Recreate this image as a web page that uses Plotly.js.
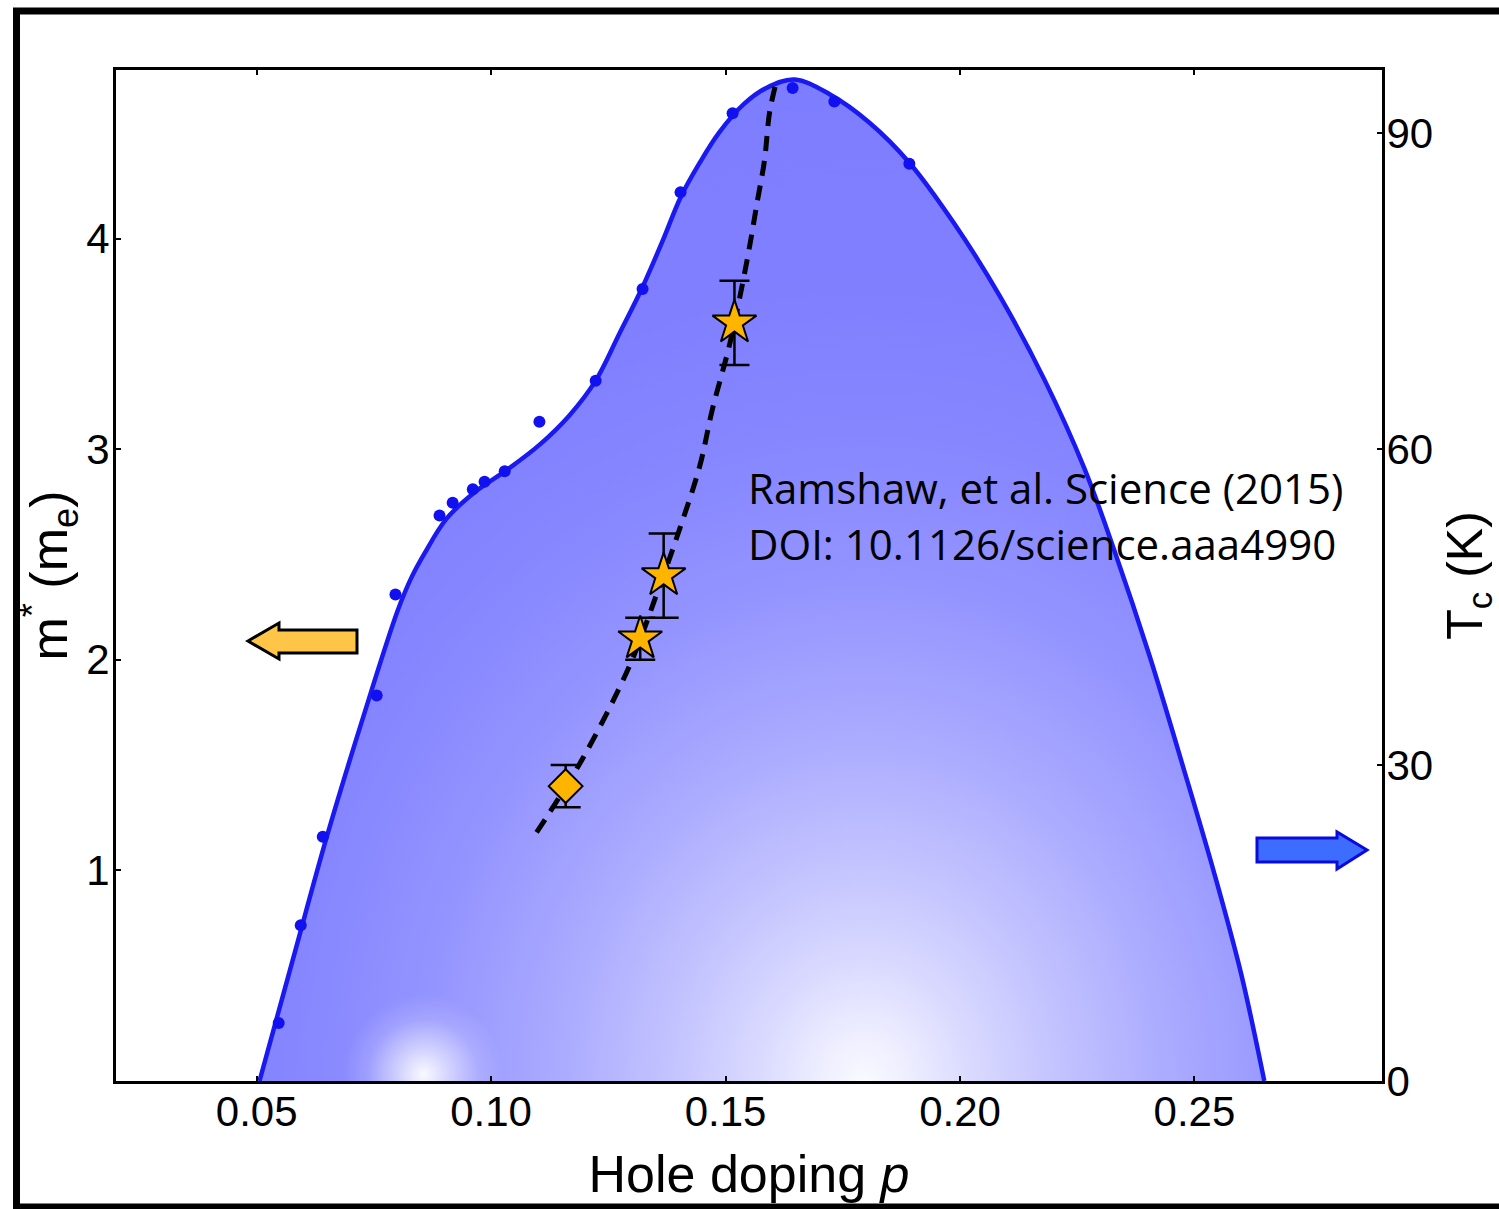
<!DOCTYPE html>
<html><head><meta charset="utf-8">
<script src="https://cdn.plot.ly/plotly-3.0.1.min.js"></script>
<style>html,body{margin:0;padding:0;background:#fff;}#chart{width:1499px;height:1209px;}</style>
</head><body><div id="chart"></div>
<script>
// Superconducting dome fit: hole doping p vs Tc (K)
const domeP  = [0.0506,0.0577,0.0649,0.0724,0.0801,0.0830,0.0858,0.0905,0.0965,0.1033,0.1103,0.1167,0.1223,0.1274,0.1323,0.1366,0.1404,0.1445,0.1487,0.1540,0.1587,0.1647,0.1722,0.1807,0.1892,0.1988,0.2084,0.2180,0.2265,0.2329,0.2404,0.2478,0.2543,0.2600,0.2649];
const domeTc = [0,11.5,23.1,34.1,44.7,47.8,50.1,53.4,55.9,58.0,60.4,63.2,66.5,71.0,75.4,79.8,83.9,87.2,90.1,92.8,94.3,95.1,93.7,91.0,87.2,81.4,74.6,66.6,58.2,50.4,40.4,29.5,19.6,10.1,0];
// Measured Tc points
const tcP   = [0.0547,0.0594,0.0641,0.0756,0.0796,0.0890,0.0918,0.0961,0.0986,0.1029,0.1103,0.1223,0.1323,0.1404,0.1515,0.1643,0.1732,0.1892];
const tcVal = [5.5,14.8,23.2,36.6,46.2,53.7,54.9,56.2,56.9,57.9,62.6,66.5,75.2,84.4,91.9,94.3,93.0,87.1];
// Effective mass m* (m_e)
const starP = [0.1318,0.1368,0.1519];
const starM = [2.1,2.4,3.6];
const starErr = [0.1,0.2,0.2];
const diamondP = [0.1159];
const diamondM = [1.4];
const diamondErr = [0.1];
// Dashed guide line for m*
const guideP = [0.1097,0.1195,0.1295,0.1353,0.1402,0.1445,0.1472,0.1509,0.1547,0.1568,0.1583,0.1594,0.1609];
const guideM = [1.18,1.53,1.97,2.31,2.62,2.92,3.19,3.50,3.91,4.18,4.37,4.60,4.75];
// Ticks
const xTickVals = [0.05,0.10,0.15,0.20,0.25];
const xTickText = ['0.05','0.10','0.15','0.20','0.25'];
const mTickVals = [1,2,3,4];
const tcTickVals = [0,30,60,90];

// ---- decoration geometry (not data): fill polygon closed below the axis ----
const fillP  = [-0.008].concat(domeP, [0.310, 0.367]);
const fillTc = [-93].concat(domeTc, [-93, -93]);
const glowP  = [0.0686,0.1026,0.1026,0.0686];
const glowTc = [-7,-7,8.2,8.2];

const FONT = 'Liberation Sans, Arial, sans-serif';
const NOTE = 'Open Sans, sans-serif';
const traces = [
  {x: fillP, y: fillTc, xaxis:'x', yaxis:'y', mode:'lines', line:{width:0, shape:'spline'},
   fill:'toself', fillgradient:{type:'radial', colorscale:[[0,'#FAFAFF'],[0.05,'#EEEEFF'],[0.12,'#DADAFF'],[0.22,'#C3C3FF'],[0.35,'#AAAAFF'],[0.5,'#9494FF'],[0.65,'#8686FF'],[0.8,'#8080FF'],[1,'#7D7DFF']]},
   hoverinfo:'skip', showlegend:false},
  {x: glowP, y: glowTc, xaxis:'x', yaxis:'y', mode:'lines', line:{width:0},
   fill:'toself', fillgradient:{type:'radial', colorscale:[[0,'rgba(255,255,255,0.95)'],[0.3,'rgba(255,255,255,0.6)'],[0.7,'rgba(255,255,255,0.15)'],[1,'rgba(255,255,255,0)']]},
   hoverinfo:'skip', showlegend:false},
  {x: domeP, y: domeTc, xaxis:'x', yaxis:'y', mode:'lines', line:{color:'#1A1AF0', width:4.5, shape:'spline'}, showlegend:false},
  {x: tcP, y: tcVal, xaxis:'x', yaxis:'y', mode:'markers', marker:{color:'#1010F0', size:12}, showlegend:false},
  {x: guideP, y: guideM, xaxis:'x', yaxis:'y2', mode:'lines', line:{color:'#000', width:5, dash:'15px,10px', shape:'spline'}, showlegend:false},
  {x: starP, y: starM, xaxis:'x', yaxis:'y2', mode:'markers',
   marker:{symbol:'star', size:33, color:'#FFB400', line:{color:'#000', width:2}},
   error_y:{type:'data', array:starErr, visible:true, color:'#000', thickness:2.5, width:15}, showlegend:false},
  {x: diamondP, y: diamondM, xaxis:'x', yaxis:'y2', mode:'markers',
   marker:{symbol:'diamond', size:26, color:'#FFB400', line:{color:'#000', width:2}},
   error_y:{type:'data', array:diamondErr, visible:true, color:'#000', thickness:2.5, width:15}, showlegend:false}
];

const axBase = {showgrid:false, zeroline:false, showline:true, linecolor:'#000', linewidth:3,
  ticks:'inside', ticklen:5, tickwidth:2, tickcolor:'#000', tickfont:{family:FONT, size:42, color:'#000'}};

const layout = {
  width:1499, height:1209,
  margin:{l:116, r:117, t:70, b:128, pad:0},
  paper_bgcolor:'#fff', plot_bgcolor:'#fff',
  font:{family:FONT, color:'#000'},
  showlegend:false,
  xaxis: Object.assign({}, axBase, {range:[0.02,0.29], tickvals:xTickVals, ticktext:xTickText, mirror:'ticks',
    ticklabelstandoff:-8,
    title:{text:'Hole doping <i>p</i>', font:{family:FONT, size:52, color:'#000'}, standoff:22}}),
  yaxis: Object.assign({}, axBase, {range:[0,96], side:'right', tickvals:tcTickVals, ticklabelstandoff:-7,
    title:{text:'T<sub>c</sub> (K)', font:{family:FONT, size:50, color:'#000'}, standoff:32}}),
  yaxis2: Object.assign({}, axBase, {range:[0,4.8], side:'left', overlaying:'y', tickvals:mTickVals, ticklabelstandoff:-5,
    title:{text:'m<sup>*</sup> (m<sub>e</sub>)', font:{family:FONT, size:52, color:'#000'}, standoff:2}}),
  annotations:[
    {xref:'paper', yref:'paper', x:0.4976, y:0.5875, xanchor:'left', yanchor:'middle', showarrow:false,
     text:'Ramshaw, et al. Science (2015)', font:{family:NOTE, size:42, color:'#000'}},
    {xref:'paper', yref:'paper', x:0.4976, y:0.5312, xanchor:'left', yanchor:'middle', showarrow:false,
     text:'DOI: 10.1126/science.aaa4990', font:{family:NOTE, size:42, color:'#000'}}
  ],
  shapes:[
    {type:'rect', xref:'paper', yref:'paper', x0:-0.0786, x1:1.3, y0:-0.1246, y1:1.0584, line:{color:'#000', width:7}, fillcolor:'rgba(0,0,0,0)'},
    {type:'path', xref:'paper', yref:'paper', layer:'above',
     path:'M0.10427,0.43521 L0.12875,0.45302 L0.12875,0.44609 L0.19036,0.44609 L0.19036,0.42334 L0.12875,0.42334 L0.12875,0.41741 Z',
     fillcolor:'#FFC548', line:{color:'#000', width:3}},
    {type:'path', xref:'paper', yref:'paper', layer:'above',
     path:'M0.90126,0.24036 L0.96445,0.24036 L0.96445,0.24629 L0.98815,0.22849 L0.96445,0.20969 L0.96445,0.21662 L0.90126,0.21662 Z',
     fillcolor:'#3D6DFF', line:{color:'#0A0ADD', width:3}}
  ]
};

Plotly.newPlot('chart', traces, layout, {displayModeBar:false, staticPlot:true});
</script>
</body></html>
